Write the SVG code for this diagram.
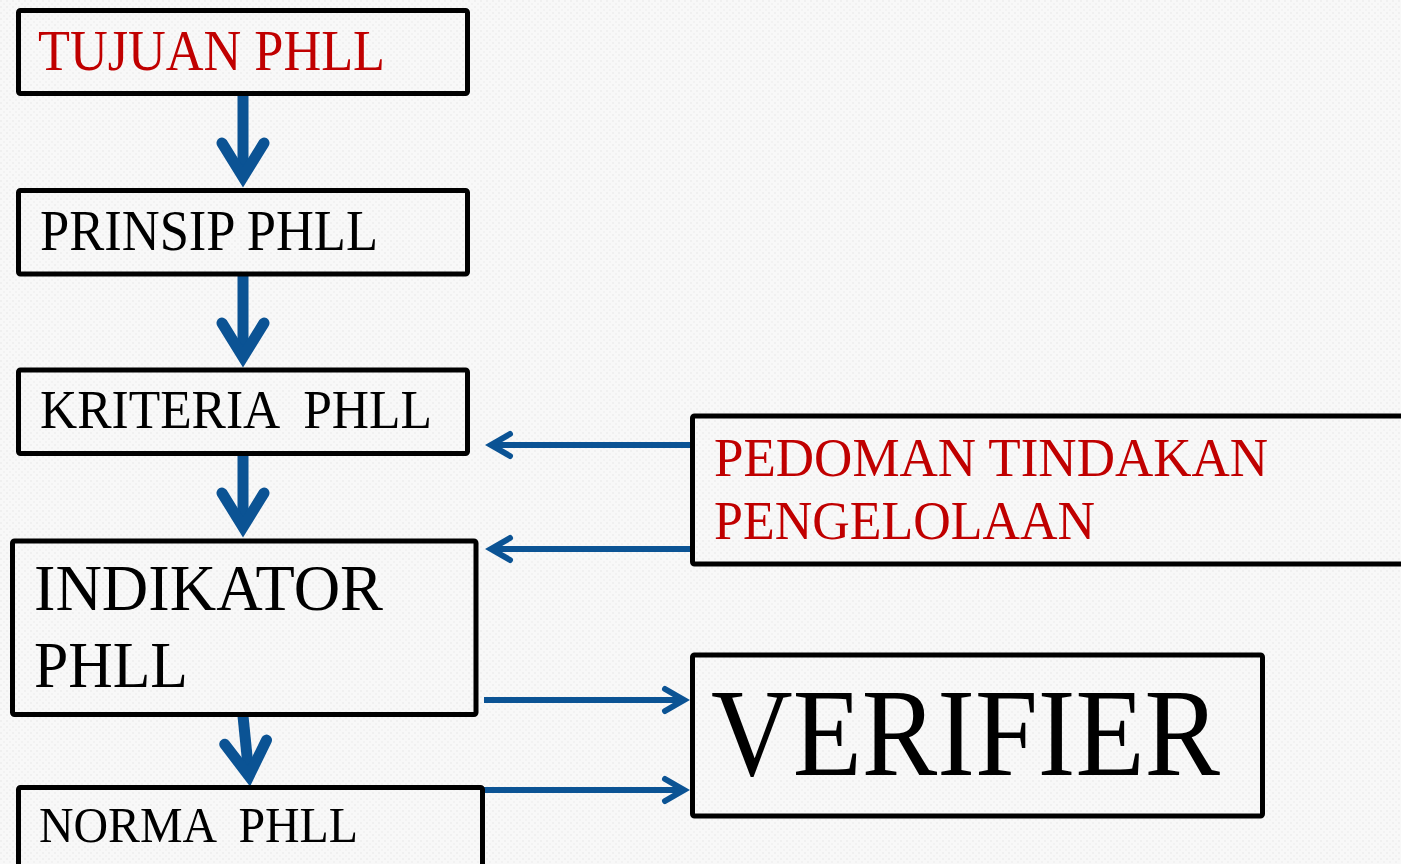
<svg xmlns="http://www.w3.org/2000/svg" width="1401" height="864" viewBox="0 0 1401 864">
<defs>
<style>
.box{fill:none;stroke:#000;stroke-width:5;stroke-linejoin:round}
.t{font-family:"Liberation Serif","Times New Roman",serif;fill:#000}
.red{fill:#C00000}
.thick{stroke:#0B5394;stroke-width:11;fill:none}
.thin{stroke:#0B5394;stroke-width:6;fill:none}
</style>
<pattern id="bg" width="6" height="6" patternUnits="userSpaceOnUse">
<rect width="6" height="6" fill="#f8f8f8"/>
<rect x="0" y="0" width="2" height="2" fill="#f0f0f0"/>
<rect x="3" y="3" width="2" height="2" fill="#f2f2f2"/>
</pattern>
<marker id="bigHead" markerUnits="userSpaceOnUse" viewBox="-45 -35 70 70" markerWidth="70" markerHeight="70" refX="0" refY="0" orient="auto" overflow="visible">
<path d="M-34,-21 L0,0 L-34,21" fill="none" stroke="#0B5394" stroke-width="11" stroke-linecap="round" stroke-linejoin="miter"/>
</marker>
<marker id="smallHead" markerUnits="userSpaceOnUse" viewBox="-30 -20 40 40" markerWidth="40" markerHeight="40" refX="0" refY="0" orient="auto" overflow="visible">
<path d="M-19,-11 L0,0 L-19,11" fill="none" stroke="#0B5394" stroke-width="6" stroke-linecap="round" stroke-linejoin="miter"/>
</marker>
</defs>
<rect width="1401" height="864" fill="url(#bg)"/>

<g id="connectors">
<line class="thick" x1="243" y1="95" x2="243" y2="177" marker-end="url(#bigHead)"/>
<line class="thick" x1="243" y1="275" x2="243" y2="357" marker-end="url(#bigHead)"/>
<line class="thick" x1="243" y1="455" x2="243" y2="527" marker-end="url(#bigHead)"/>
<line class="thick" x1="243" y1="716" x2="249" y2="776" marker-end="url(#bigHead)"/>
<line class="thin" x1="692" y1="445" x2="491" y2="445" marker-end="url(#smallHead)"/>
<line class="thin" x1="692" y1="549" x2="491" y2="549" marker-end="url(#smallHead)"/>
<line class="thin" x1="484" y1="700" x2="684" y2="700" marker-end="url(#smallHead)"/>
<line class="thin" x1="484" y1="790" x2="684" y2="790" marker-end="url(#smallHead)"/>
</g>

<g id="tujuan">
<rect class="box" x="18.5" y="10.5" width="449" height="83" rx="2"/>
<text class="t red" x="38" y="70" font-size="56" textLength="347" lengthAdjust="spacingAndGlyphs">TUJUAN PHLL</text>
</g>
<g id="prinsip">
<rect class="box" x="18.5" y="190.5" width="449" height="83.5" rx="2"/>
<text class="t" x="40" y="250" font-size="56" textLength="338" lengthAdjust="spacingAndGlyphs">PRINSIP PHLL</text>
</g>
<g id="kriteria">
<rect class="box" x="18.5" y="370" width="449" height="83.5" rx="2"/>
<text class="t" x="40" y="428" font-size="54" textLength="392" lengthAdjust="spacingAndGlyphs" xml:space="preserve">KRITERIA  PHLL</text>
</g>
<g id="indikator">
<rect class="box" x="12.5" y="541" width="463.5" height="173.5" rx="2"/>
<text class="t" x="34" y="610" font-size="66" textLength="349" lengthAdjust="spacingAndGlyphs">INDIKATOR</text>
<text class="t" x="34" y="687" font-size="66" textLength="154" lengthAdjust="spacingAndGlyphs">PHLL</text>
</g>
<g id="norma">
<rect class="box" x="18.5" y="787.5" width="464" height="100" rx="2"/>
<text class="t" x="39" y="842" font-size="51" textLength="319" lengthAdjust="spacingAndGlyphs" xml:space="preserve">NORMA  PHLL</text>
</g>
<g id="pedoman">
<rect class="box" x="692.5" y="416" width="800" height="148" rx="2"/>
<text class="t red" x="714" y="476" font-size="55" textLength="554" lengthAdjust="spacingAndGlyphs">PEDOMAN TINDAKAN</text>
<text class="t red" x="714" y="539" font-size="55" textLength="381" lengthAdjust="spacingAndGlyphs">PENGELOLAAN</text>
</g>
<g id="verifier">
<rect class="box" x="692.5" y="655" width="570" height="161" rx="2"/>
<text class="t" x="711" y="775" font-size="124" textLength="509" lengthAdjust="spacingAndGlyphs">VERIFIER</text>
</g>
</svg>
